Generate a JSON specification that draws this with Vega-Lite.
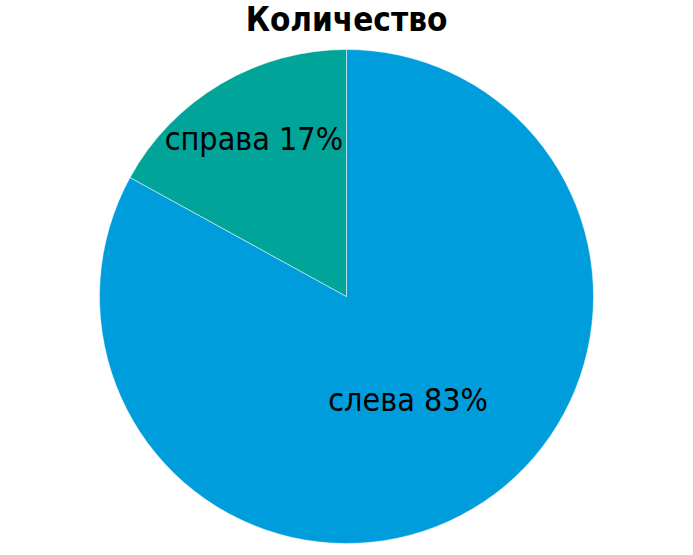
{
  "$schema": "https://vega.github.io/schema/vega-lite/v6.json",
  "width": 693,
  "height": 555,
  "autosize": {"type": "fit", "contains": "padding"},
  "padding": {"top": 5, "left": 0, "right": 0, "bottom": 0},
  "background": "white",
  "title": {
    "text": "Количество",
    "font": "DejaVu Sans Condensed",
    "fontWeight": "bold",
    "fontSize": 33,
    "color": "#000000",
    "anchor": "middle",
    "offset": 0
  },
  "data": {
    "values": [
      {"side": "слева", "pct": 83, "label": "слева 83%"},
      {"side": "справа", "pct": 17, "label": "справа 17%"}
    ]
  },
  "encoding": {
    "theta": {"field": "pct", "type": "quantitative", "stack": true},
    "color": {
      "field": "side",
      "type": "nominal",
      "scale": {"domain": ["слева", "справа"], "range": ["#009DDC", "#00A498"]},
      "legend": null
    },
    "order": {"field": "side", "type": "nominal", "sort": "ascending"}
  },
  "layer": [
    {"mark": {"type": "arc", "outerRadius": 247, "stroke": "white", "strokeWidth": 0.5}},
    {
      "mark": {"type": "text", "radius": 182, "font": "DejaVu Sans Condensed", "fontSize": 32},
      "encoding": {
        "text": {"field": "label", "condition": {"test": "datum.side !== 'справа'", "value": ""}},
        "color": {"value": "#000000"}
      }
    },
    {
      "mark": {"type": "text", "radius": 121, "font": "DejaVu Sans Condensed", "fontSize": 32},
      "encoding": {
        "text": {"field": "label", "condition": {"test": "datum.side !== 'слева'", "value": ""}},
        "color": {"value": "#000000"}
      }
    }
  ],
  "config": {"view": {"stroke": null}}
}
